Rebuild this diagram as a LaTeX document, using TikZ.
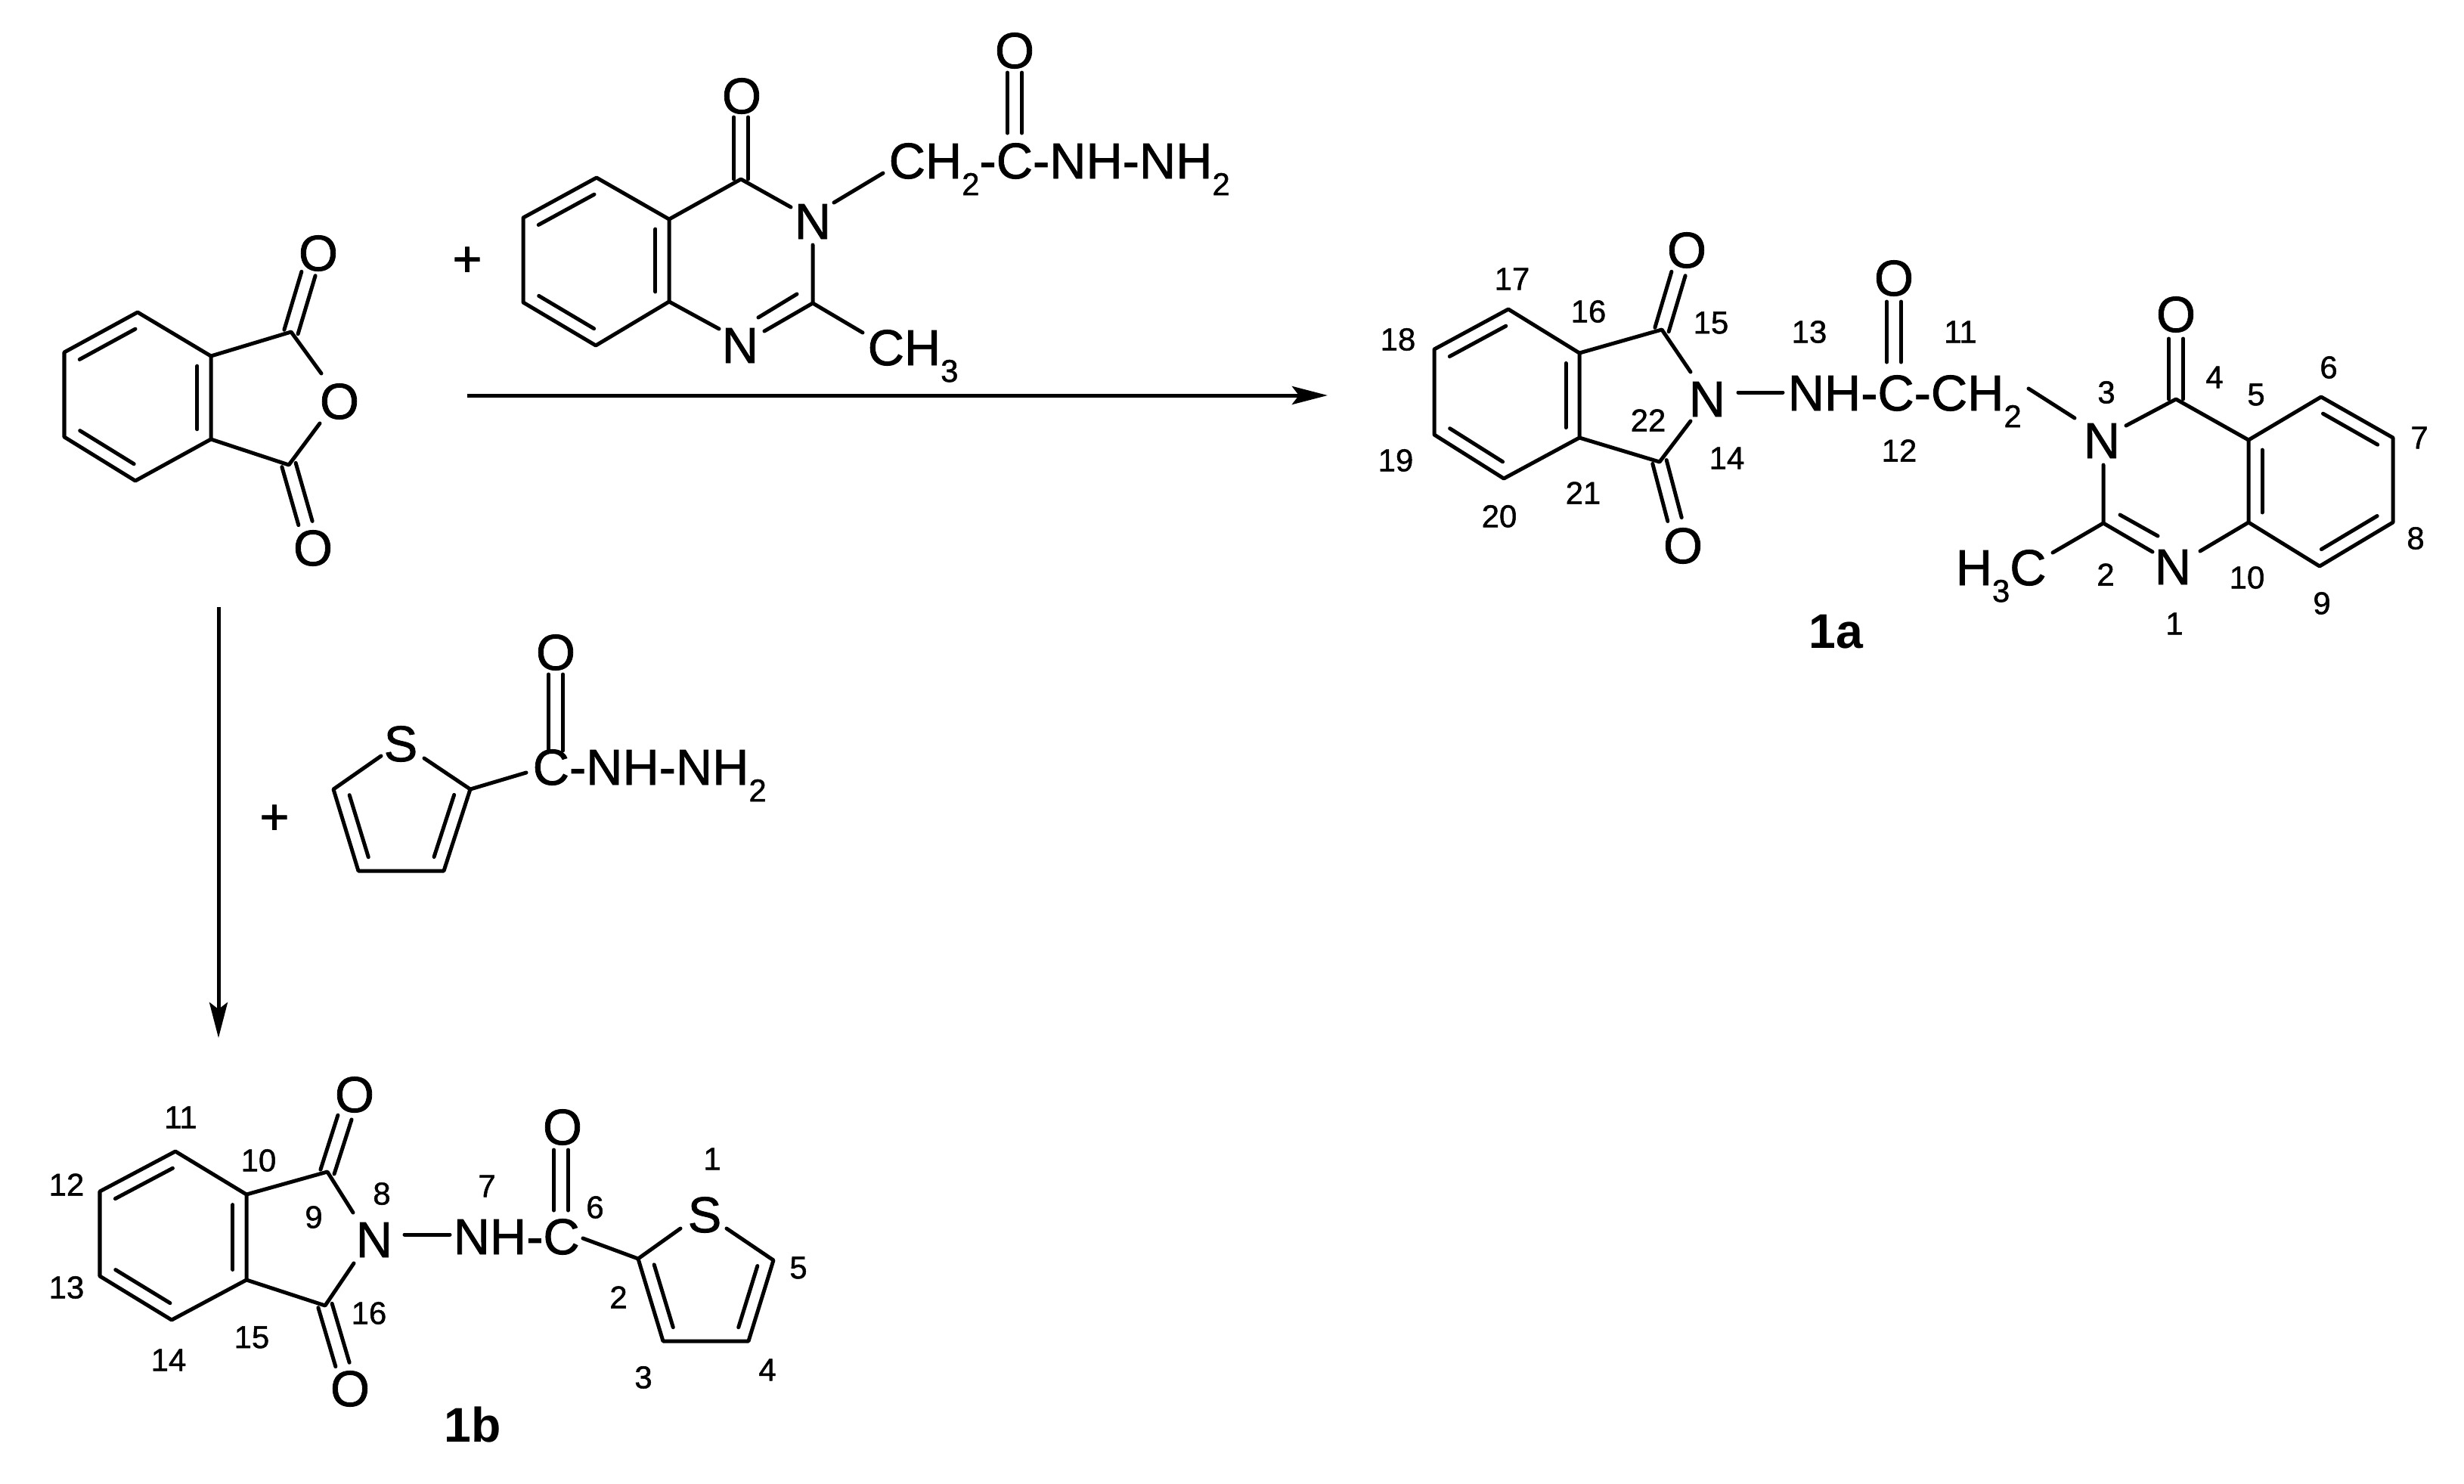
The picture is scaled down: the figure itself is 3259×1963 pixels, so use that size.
\documentclass[tikz,border=0pt]{standalone}
\usepackage{fontspec}
\setmainfont{Liberation Sans}
\newfontfamily\heavyf[RawFeature={embolden=1.2}]{Liberation Sans}
\usetikzlibrary{calc,arrows.meta}
\newcommand{\chemsub}[1]{\raisebox{-6.3pt}{\fontsize{11.9pt}{13pt}\selectfont #1}}
% inner line of an aromatic double bond: the ring interior lies on the left of a->b
\newcommand{\inb}[2]{\draw[bond] ($(#1)!.12!(#2)!0.18cm!90:(#2)$) -- ($(#2)!.12!(#1)!0.18cm!-90:(#1)$);}
% symmetric double bond
\newcommand{\dbl}[2]{\draw[bond] ($(#1)!0.095cm!90:(#2)$) -- ($(#2)!0.095cm!-90:(#1)$);
  \draw[bond] ($(#1)!0.095cm!-90:(#2)$) -- ($(#2)!0.095cm!90:(#1)$);}
\newcommand{\cc}[2]{\coordinate (#1) at (#2);}
\newcommand{\lab}[3]{\node[num] (#1) at (#2) {#3};}
\tikzset{
  bond/.style={line width=0.05cm,line cap=round,line join=round},
  rxn/.style={line width=0.05cm,-{Stealth[length=0.47cm,width=0.24cm,inset=0.09cm]}},
  atom/.style={inner sep=0,font=\heavyf\fontsize{19pt}{20pt}\selectfont},
  atomb/.style={atom,anchor=base west},
  atomc/.style={atom,anchor=base},
  num/.style={inner sep=0,font=\heavyf\fontsize{11.9pt}{13pt}\selectfont},
  cpd/.style={inner sep=0,font=\fontsize{18.3pt}{20pt}\selectfont\bfseries},
}
\begin{document}
\begin{tikzpicture}[x=0.01cm,y=-0.01cm]
\useasboundingbox (0,0) rectangle (3259,1963);
\fill[white] (0,0) rectangle (3259,1963);

% ---------- phthalic anhydride
\cc{aa}{182,413}\cc{ab}{85,466}\cc{ac}{85,578}\cc{ad}{179,636}\cc{ae}{279,581}\cc{af}{279,471}
\cc{aC1}{385,439}\cc{aC3}{382,615}\cc{aOe1}{408,362}\cc{aOe3}{404,692}\cc{aRa}{425,494}\cc{aRb}{423,560}
\node[atom] (aO1) at (421,335) {O};
\node[atom] (aO2) at (449,531) {O};
\node[atom] (aO3) at (414,725) {O};
\draw[bond] (aa)--(ab)--(ac)--(ad)--(ae)--(af)--cycle;
\inb{aa}{ab}\inb{ac}{ad}\inb{ae}{af}
\draw[bond] (af)--(aC1)--(aRa);
\draw[bond] (ae)--(aC3)--(aRb);
\dbl{aC1}{aOe1}\dbl{aC3}{aOe3}

% ---------- plus signs
\node[atom] (plusa) at (618,346) {+};
\node[atom] (plusb) at (363,1084) {+};

% ---------- quinazolinone hydrazide
\cc{qa}{789,235}\cc{qb}{692,288}\cc{qc}{692,400}\cc{qd}{788,457}\cc{qe}{885,399}\cc{qf}{885,290}
\cc{qC4}{980,237}\cc{qO4e}{980,155}\cc{qN3a}{1046,274}\cc{qN3b}{1075,324}\cc{qC2}{1075,401}
\cc{qN1a}{951,435}\cc{qN1b}{1011,438}\cc{qIa}{1054,389}\cc{qIb}{1003,420}\cc{qMe}{1141,440}
\cc{qN3c}{1103,268}\cc{qCH}{1168,229}\cc{qCa}{1342,176}\cc{qOe}{1342,96}
\draw[bond] (qa)--(qb)--(qc)--(qd)--(qe)--(qf)--cycle;
\inb{qa}{qb}\inb{qc}{qd}\inb{qe}{qf}
\draw[bond] (qf)--(qC4)--(qN3a);
\dbl{qC4}{qO4e}
\draw[bond] (qN3b)--(qC2)--(qN1b);
\draw[bond] (qIa)--(qIb);
\draw[bond] (qe)--(qN1a);
\draw[bond] (qC2)--(qMe);
\draw[bond] (qN3c)--(qCH);
\dbl{qCa}{qOe}
\node[atom] (qO4) at (981,127) {O};
\node[atom] (qO) at (1342,67) {O};
\node[atomc] (qN3) at (1075,316) {N};
\node[atomc] (qN1) at (979,480) {N};
\node[atomb] (qMeT) at (1147,483) {CH\chemsub{3}};
\node[atomb] (qChain) at (1175,236) {CH\chemsub{2}-C-NH-NH\chemsub{2}};

% ---------- reaction arrows
\cc{hA}{618,523}\cc{hB}{1756,523}\cc{vA}{289,803}\cc{vB}{289,1373}
\draw[rxn] (hA)--(hB);
\draw[rxn] (vA)--(vB);

% ---------- thiophene hydrazide
\cc{tC2}{622,1044}\cc{tC3}{587,1152}\cc{tC4}{474,1152}\cc{tC5}{441,1044}
\cc{tSa}{504,1000}\cc{tSb}{561,1003}\cc{tCe}{696,1022}\cc{tCa}{735,993}\cc{tOe}{735,892}
\draw[bond] (tSa)--(tC5)--(tC4)--(tC3)--(tC2)--(tSb);
\inb{tC5}{tC4}\inb{tC3}{tC2}
\draw[bond] (tC2)--(tCe);
\dbl{tCa}{tOe}
\node[atom] (tS) at (530,984) {S};
\node[atom] (tO) at (735,863) {O};
\node[atomb] (tChain) at (704,1038) {C-NH-NH\chemsub{2}};

% ---------- product 1a
\cc{ba}{1995,409}\cc{bb}{1897,462}\cc{bc}{1897,575}\cc{bd}{1989,633}\cc{be}{2089,579}\cc{bf}{2089,467}
\cc{bC1}{2198,436}\cc{bC3}{2195,611}\cc{bO1e}{2220,362}\cc{bO3e}{2215,687}\cc{bNa}{2236,492}\cc{bNb}{2236,557}
\cc{bNc}{2299,519}\cc{bNd}{2358,519}\cc{bCa}{2505,479}\cc{bOe}{2505,399}\cc{bCH}{2683,514}\cc{bN3a}{2744,553}
\cc{bN3b}{2812,563}\cc{bC4}{2878,528}\cc{bO4e}{2878,448}\cc{bC5}{2974,582}\cc{bC6}{3070,525}\cc{bC7}{3165,579}
\cc{bC8}{3165,691}\cc{bC9}{3068,749}\cc{bC10}{2974,691}\cc{bN1a}{2910,729}\cc{bN1b}{2847,730}
\cc{bN3c}{2782,615}\cc{bC2}{2782,692}\cc{bIa}{2804,681}\cc{bIb}{2854,709}\cc{bMe}{2715,731}
\draw[bond] (ba)--(bb)--(bc)--(bd)--(be)--(bf)--cycle;
\inb{ba}{bb}\inb{bc}{bd}\inb{be}{bf}
\draw[bond] (bf)--(bC1)--(bNa);
\draw[bond] (be)--(bC3)--(bNb);
\dbl{bC1}{bO1e}\dbl{bC3}{bO3e}
\draw[bond] (bNc)--(bNd);
\dbl{bCa}{bOe}
\draw[bond] (bCH)--(bN3a);
\draw[bond] (bN3b)--(bC4)--(bC5)--(bC6)--(bC7)--(bC8)--(bC9)--(bC10)--(bC5);
\dbl{bC4}{bO4e}
\inb{bC7}{bC6}\inb{bC5}{bC10}\inb{bC9}{bC8}
\draw[bond] (bC10)--(bN1a);
\draw[bond] (bN1b)--(bC2)--(bN3c);
\draw[bond] (bIa)--(bIb);
\draw[bond] (bC2)--(bMe);
\node[atom] (bO1) at (2231,331) {O};
\node[atom] (bO3) at (2226,722) {O};
\node[atom] (bO) at (2505,368) {O};
\node[atom] (bO4) at (2878,416) {O};
\node[atomc] (bN) at (2258,551) {N};
\node[atomc] (bN3) at (2780,606) {N};
\node[atomc] (bN1) at (2874,773) {N};
\node[atomb] (bChain) at (2364,543) {NH-C-CH\chemsub{2}};
\node[atomb] (bMeT) at (2586,774) {H\chemsub{3}C};
\lab{la17}{2000,369}{17}\lab{la16}{2101,412}{16}\lab{la15}{2263,427}{15}\lab{la13}{2393,439}{13}
\lab{la11}{2593,439}{11}\lab{la18}{1849,449}{18}\lab{la6}{3080,486}{6}\lab{la4}{2929,499}{4}
\lab{la5}{2984,522}{5}\lab{la3}{2786,519}{3}\lab{la7}{3200,579}{7}\lab{la22}{2180,556}{22}
\lab{la12}{2512,596}{12}\lab{la14}{2284,606}{14}\lab{la19}{1846,609}{19}\lab{la21}{2094,652}{21}
\lab{la20}{1983,683}{20}\lab{la8}{3195,712}{8}\lab{la2}{2785,760}{2}\lab{la10}{2972,764}{10}
\lab{la9}{3071,798}{9}\lab{la1}{2876,825}{1}
\node[cpd] (cpda) at (2428,836) {1a};

% ---------- product 1b
\cc{ca}{232,1523}\cc{cb}{132,1576}\cc{cc}{132,1688}\cc{cd}{227,1746}\cc{ce}{326,1693}\cc{cf}{326,1580}
\cc{cC1}{433,1550}\cc{cC3}{430,1727}\cc{cO1e}{456,1478}\cc{cO3e}{453,1805}\cc{cNa}{467,1604}\cc{cNb}{468,1671}
\cc{cNc}{535,1633}\cc{cNd}{595,1633}\cc{cCa}{742,1601}\cc{cOe}{742,1521}\cc{cCb}{771,1638}
\cc{cT2}{844,1665}\cc{cT3}{877,1774}\cc{cT4}{990,1774}\cc{cT5}{1023,1667}\cc{cSa}{900,1625}\cc{cSb}{961,1625}
\draw[bond] (ca)--(cb)--(cc)--(cd)--(ce)--(cf)--cycle;
\inb{ca}{cb}\inb{cc}{cd}\inb{ce}{cf}
\draw[bond] (cf)--(cC1)--(cNa);
\draw[bond] (ce)--(cC3)--(cNb);
\dbl{cC1}{cO1e}\dbl{cC3}{cO3e}
\draw[bond] (cNc)--(cNd);
\dbl{cCa}{cOe}
\draw[bond] (cCb)--(cT2);
\draw[bond] (cSa)--(cT2)--(cT3)--(cT4)--(cT5)--(cSb);
\inb{cT2}{cT3}\inb{cT4}{cT5}
\node[atom] (cO1) at (469,1448) {O};
\node[atom] (cO3) at (463,1837) {O};
\node[atom] (cO) at (744,1491) {O};
\node[atom] (cS) at (932,1607) {S};
\node[atomc] (cN) at (495,1663) {N};
\node[atomb] (cChain) at (599,1659) {NH-C};
\lab{lb11}{239,1478}{11}\lab{lb10}{342,1535}{10}\lab{lb12}{88,1567}{12}\lab{lb8}{505,1579}{8}
\lab{lb7}{644,1569}{7}\lab{lb1}{942,1533}{1}\lab{lb6}{787,1597}{6}\lab{lb9}{415,1610}{9}
\lab{lb5}{1056,1677}{5}\lab{lb13}{88,1703}{13}\lab{lb2}{818,1716}{2}\lab{lb16}{488,1737}{16}
\lab{lb15}{333,1769}{15}\lab{lb14}{223,1799}{14}\lab{lb3}{851,1822}{3}\lab{lb4}{1015,1812}{4}
\node[cpd] (cpdb) at (625,1884) {1b};
\end{tikzpicture}
\end{document}
